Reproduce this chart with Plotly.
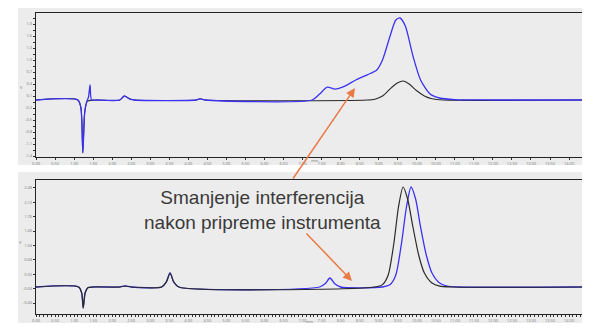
import plotly.graph_objects as go

# ---------------- data (time in min, signal in arbitrary units) ----------------
top_blue_t = [0, 1.10, 1.18, 1.23, 1.28, 1.33, 1.38, 1.42, 1.46, 1.6, 2.2, 2.32, 2.45, 2.6, 4.2, 4.31, 4.45,
              7.25, 7.45, 7.65, 7.85, 8.05, 8.4, 8.7, 8.95, 9.1, 9.3, 9.45, 9.56, 9.7, 9.9, 10.1, 10.35, 10.6,
              11.0, 12.0, 14.5]
top_blue_y = [0, 0, -2, -13.2, -3, -0.5, 0.8, 3.8, 0, 0, 0, 1.0, 0.3, 0, 0, 0.3, 0,
              0, 1.5, 3.2, 2.7, 3.2, 5.0, 6.3, 7.5, 10, 16, 20, 20.5, 18.5, 11, 5, 1.5, 0.5,
              0.1, 0, 0]

top_black_t = [0, 1.10, 1.18, 1.23, 1.28, 1.35, 1.5, 2.2, 2.32, 2.45, 2.6, 4.2, 4.31, 4.45, 8.7, 8.9, 9.1, 9.3,
               9.5, 9.64, 9.8, 10.0, 10.2, 10.4, 10.7, 14.5]
top_black_y = [0, 0, -2, -13.2, -3, -0.3, 0, 0, 1.0, 0.3, 0, 0, 0.3, 0, 0, 0.2, 1.0, 2.8,
               4.3, 4.75, 4.0, 2.3, 1.0, 0.3, 0, 0]

bot_black_t = [0, 1.12, 1.2, 1.24, 1.29, 1.36, 1.5, 2.2, 2.34, 2.5, 3.3, 3.42, 3.52, 3.62, 3.75, 8.9, 9.1, 9.25,
               9.4, 9.52, 9.64, 9.76, 9.9, 10.05, 10.2, 10.4, 10.6, 10.9, 14.5]
bot_black_y = [0, 0, -1.5, -5.25, -1.5, -0.2, 0, 0, 0.25, 0, 0, 1.2, 3.5, 1.2, 0, 0, 0.6, 3,
               11, 20, 25, 22, 15, 8, 3.5, 1, 0.2, 0, 0]

bot_blue_t = [0, 1.12, 1.2, 1.24, 1.29, 1.36, 1.5, 2.2, 2.34, 2.5, 3.3, 3.42, 3.52, 3.62, 3.75, 7.45, 7.6, 7.72,
              7.84, 8.0, 9.1, 9.3, 9.45, 9.6, 9.73, 9.85, 9.97, 10.1, 10.25, 10.4, 10.6, 10.8, 11.1, 14.5]
bot_blue_y = [0, 0, -1.5, -5.25, -1.5, -0.2, 0, 0, 0.25, 0, 0, 1.2, 3.5, 1.2, 0, 0, 0.9, 2.25,
              0.9, 0, 0, 0.6, 3, 11, 20, 25, 22, 15, 8, 3.5, 1, 0.2, 0, 0]

x_ticks = [i * 0.5 for i in range(30)]
x_tick_labels = ["%.2f" % v for v in x_ticks]
top_y_ticks = [-14 + i * 3 for i in range(12)]
top_y_labels = ["%.1f" % (v / 10) for v in top_y_ticks]
bot_y_ticks = [-4 + i * 3.6 for i in range(9)]
bot_y_labels = ["%.2f" % (v / 10) for v in bot_y_ticks]

annot_text = "Smanjenje interferencija<br>nakon pripreme instrumenta"

BLUE = "#3b32f0"
BLACK = "#2a2a2a"
ORANGE = "#ea7a45"

# page has an 8px body margin: figure spans screen 8..590 x 8..331
OFF = 8
W, H = 590 - OFF, 331 - OFF


def px(sx):
    return (sx - OFF) / W


def py(sy):
    return 1 - (sy - OFF) / H


fig = go.Figure()
fig.add_trace(go.Scatter(x=top_black_t, y=top_black_y, mode="lines", line=dict(color=BLACK, width=1.1, shape="spline", smoothing=0.7),
                         xaxis="x", yaxis="y"))
fig.add_trace(go.Scatter(x=top_blue_t, y=top_blue_y, mode="lines", line=dict(color=BLUE, width=1.3, shape="spline", smoothing=0.7),
                         xaxis="x", yaxis="y"))
fig.add_trace(go.Scatter(x=bot_blue_t, y=bot_blue_y, mode="lines", line=dict(color=BLUE, width=1.3, shape="spline", smoothing=0.7),
                         xaxis="x2", yaxis="y2"))
fig.add_trace(go.Scatter(x=bot_black_t, y=bot_black_y, mode="lines", line=dict(color=BLACK, width=1.2, shape="spline", smoothing=0.7),
                         xaxis="x2", yaxis="y2"))

xdom = [px(36), px(590)]
tiny = dict(size=4, color="#777")

axis_common = dict(showgrid=False, zeroline=False, showline=True, linecolor="#222", linewidth=1.2,
                   ticks="outside", ticklen=2, tickcolor="#333", tickfont=tiny, automargin=False)

fig.update_layout(
    width=W, height=H, margin=dict(l=0, r=0, t=0, b=0, autoexpand=False),
    paper_bgcolor="white", plot_bgcolor="#f2f2f2", showlegend=False,
    xaxis=dict(domain=xdom, anchor="y", range=[0, 14.55], tickvals=x_ticks, ticktext=x_tick_labels,
               mirror=True, **axis_common),
    yaxis=dict(domain=[py(157), py(13)], anchor="x", range=[-14.25, 21.75],
               tickvals=top_y_ticks, ticktext=top_y_labels,
               minor=dict(ticks="outside", ticklen=2, dtick=1.5, tick0=-14, tickcolor="#333"), **axis_common),
    xaxis2=dict(domain=xdom, anchor="y2", range=[0, 14.55], tickvals=x_ticks, ticktext=x_tick_labels,
                mirror=True, minor=dict(ticks="outside", ticklen=1.5, dtick=0.1, tickcolor="#333"), **axis_common),
    yaxis2=dict(domain=[py(314), py(180)], anchor="x2", range=[-6.75, 26.75],
                tickvals=bot_y_ticks, ticktext=bot_y_labels, **axis_common),
    shapes=[
        dict(type="rect", xref="paper", yref="paper", x0=px(18), x1=1, y0=py(165), y1=py(8),
             fillcolor="#ececec", line=dict(width=0), layer="below"),
        dict(type="rect", xref="paper", yref="paper", x0=px(18), x1=1, y0=py(323), y1=py(172),
             fillcolor="#ececec", line=dict(width=0), layer="below"),
    ],
    annotations=[
        dict(xref="paper", yref="paper", x=px(262), y=py(210), text=annot_text, showarrow=False,
             font=dict(family="Liberation Sans, Arial", size=19, color="#3a3a3a"), align="center"),
        dict(xref="paper", yref="paper", x=px(355), y=py(88), ax=-63, ay=92, text="", showarrow=True,
             arrowhead=2, arrowsize=1.2, arrowwidth=1.5, arrowcolor=ORANGE),
        dict(xref="paper", yref="paper", x=px(352), y=py(281), ax=-47, ay=-49, text="", showarrow=True,
             arrowhead=2, arrowsize=1.2, arrowwidth=1.5, arrowcolor=ORANGE),
        dict(xref="paper", yref="paper", x=px(18), y=py(83), text="V", showarrow=False, font=tiny),
        dict(xref="paper", yref="paper", x=px(17), y=py(247), text="V", showarrow=False, font=tiny),
        dict(xref="paper", yref="paper", x=px(315), y=py(161), text="min", showarrow=False, font=tiny),
        dict(xref="paper", yref="paper", x=px(310), y=py(326), text="min", showarrow=False, font=tiny),
    ],
)

fig.write_html("out.html")
